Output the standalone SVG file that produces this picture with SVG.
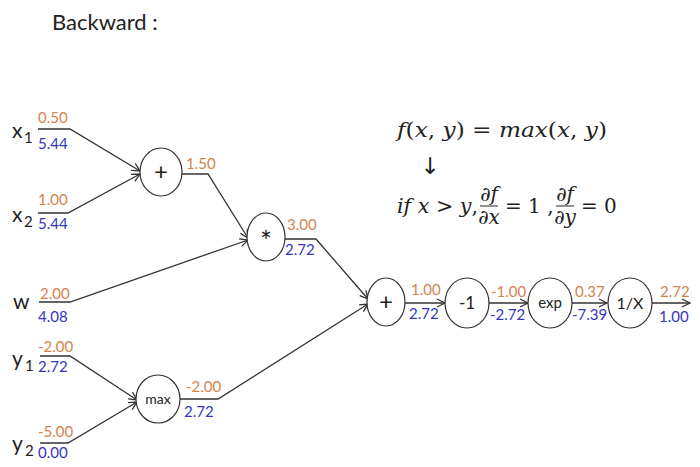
<svg xmlns="http://www.w3.org/2000/svg" width="700" height="467" viewBox="0 0 700 467">
<defs>
<marker id="arr" markerUnits="userSpaceOnUse" markerWidth="12" markerHeight="12" refX="9" refY="5" orient="auto">
<path d="M1,1 L9,5 L1,9" fill="none" stroke="#333" stroke-width="1.3"/>
</marker>
<style>
.t{font-family:Lato,"Liberation Sans",sans-serif;}
.o{font-family:Lato,"Liberation Sans",sans-serif;font-size:15px;fill:#D4834E;}
.b{font-family:Lato,"Liberation Sans",sans-serif;font-size:15px;fill:#3535C0;}
.v{font-family:Lato,"Liberation Sans",sans-serif;font-size:21px;fill:#222;}
.s{font-family:Lato,"Liberation Sans",sans-serif;font-size:15px;fill:#222;}
.n ellipse{fill:#fff;stroke:#333;stroke-width:1.2;}
.n text{font-family:Lato,"Liberation Sans",sans-serif;fill:#222;text-anchor:middle;}
.c{fill:none;stroke:#333;stroke-width:1.3;marker-end:url(#arr);}
.m{font-family:"DejaVu Serif","Liberation Serif",serif;font-size:20px;fill:#222;}
.i{font-style:italic;}
</style>
</defs>
<rect width="700" height="467" fill="#fff"/>
<text class="t" x="52" y="30" font-size="22" fill="#222">Backward :</text>

<g id="connectors">
<polyline class="c" points="38,129 70,129 140,171"/>
<polyline class="c" points="38,213 68,213 140,174"/>
<polyline class="c" points="182,174 208,174 248,238"/>
<polyline class="c" points="39,302 70,302 248,240"/>
<polyline class="c" points="40,356 70,356 137,400"/>
<polyline class="c" points="40,443 68,443 137,402"/>
<polyline class="c" points="180,399 218,399 368,304"/>
<polyline class="c" points="285,239 316,239 368,299"/>
<polyline class="c" points="405,303 445,303"/>
<polyline class="c" points="489,303 528,303"/>
<polyline class="c" points="572,303 607,303"/>
<polyline class="c" points="652,303 690,303"/>
</g>

<g id="inputs">
<text class="v" x="12" y="138">x</text><text class="s" x="24" y="143">1</text>
<text class="o" x="38" y="123">0.50</text><text class="b" x="38" y="149">5.44</text>
<text class="v" x="12" y="222">x</text><text class="s" x="24" y="227">2</text>
<text class="o" x="38" y="205">1.00</text><text class="b" x="38" y="229">5.44</text>
<text class="v" x="13" y="309">w</text>
<text class="o" x="40" y="299">2.00</text><text class="b" x="38" y="322">4.08</text>
<text class="v" x="12" y="366">y</text><text class="s" x="25" y="371">1</text>
<text class="o" x="38" y="352">-2.00</text><text class="b" x="38" y="372">2.72</text>
<text class="v" x="12" y="451">y</text><text class="s" x="25" y="456">2</text>
<text class="o" x="38" y="437">-5.00</text><text class="b" x="38" y="458">0.00</text>
</g>

<g id="values">
<text class="o" x="186" y="169">1.50</text>
<text class="o" x="287" y="230">3.00</text><text class="b" x="285" y="255">2.72</text>
<text class="o" x="186" y="392">-2.00</text><text class="b" x="184" y="417">2.72</text>
<text class="o" x="411" y="295">1.00</text><text class="b" x="409" y="319">2.72</text>
<text class="o" x="491" y="297">-1.00</text><text class="b" x="490" y="320">-2.72</text>
<text class="o" x="575" y="297">0.37</text><text class="b" x="572" y="320">-7.39</text>
<text class="o" x="660" y="297">2.72</text><text class="b" x="659" y="322">1.00</text>
</g>

<g id="node-add1" class="n"><ellipse cx="161" cy="172" rx="21" ry="24"/><text x="161" y="180" font-size="24">+</text></g>
<g id="node-mul" class="n"><ellipse cx="266" cy="237" rx="19" ry="24"/><text x="266" y="252" font-size="28">*</text></g>
<g id="node-max" class="n"><ellipse cx="158" cy="399" rx="22" ry="24"/><text x="158" y="404" font-size="14">max</text></g>
<g id="node-add2" class="n"><ellipse cx="386" cy="302" rx="19" ry="24"/><text x="386" y="310" font-size="24">+</text></g>
<g id="node-neg" class="n"><ellipse cx="467" cy="303" rx="22" ry="25"/><text x="467" y="309" font-size="17">-1</text></g>
<g id="node-exp" class="n"><ellipse cx="550" cy="303" rx="22" ry="25"/><text x="550" y="308" font-size="15">exp</text></g>
<g id="node-inv" class="n"><ellipse cx="630" cy="303" rx="22" ry="25"/><text x="630" y="309" font-size="16">1/X</text></g>

<g id="formula">
<text class="m" x="397" y="137" textLength="210" lengthAdjust="spacingAndGlyphs"><tspan class="i">f</tspan>(<tspan class="i">x</tspan>, <tspan class="i">y</tspan>) = <tspan class="i">max</tspan>(<tspan class="i">x</tspan>, <tspan class="i">y</tspan>)</text>
<text x="430" y="174" text-anchor="middle" font-family="'DejaVu Sans',sans-serif" font-size="23" fill="#222">↓</text>
<text class="m" x="397" y="213" textLength="81" lengthAdjust="spacingAndGlyphs"><tspan class="i">if x</tspan> &gt; <tspan class="i">y</tspan>,</text>
<text class="m" x="489" y="201" text-anchor="middle" font-size="18">∂<tspan class="i">f</tspan></text>
<line x1="480" y1="206" x2="498" y2="206" stroke="#222" stroke-width="1"/>
<text class="m" x="489" y="224" text-anchor="middle" font-size="18">∂<tspan class="i">x</tspan></text>
<text class="m" x="505" y="213">= 1 ,</text>
<text class="m" x="565" y="201" text-anchor="middle" font-size="18">∂<tspan class="i">f</tspan></text>
<line x1="556" y1="206" x2="574" y2="206" stroke="#222" stroke-width="1"/>
<text class="m" x="565" y="224" text-anchor="middle" font-size="18">∂<tspan class="i">y</tspan></text>
<text class="m" x="581" y="213">= 0</text>
</g>
</svg>
